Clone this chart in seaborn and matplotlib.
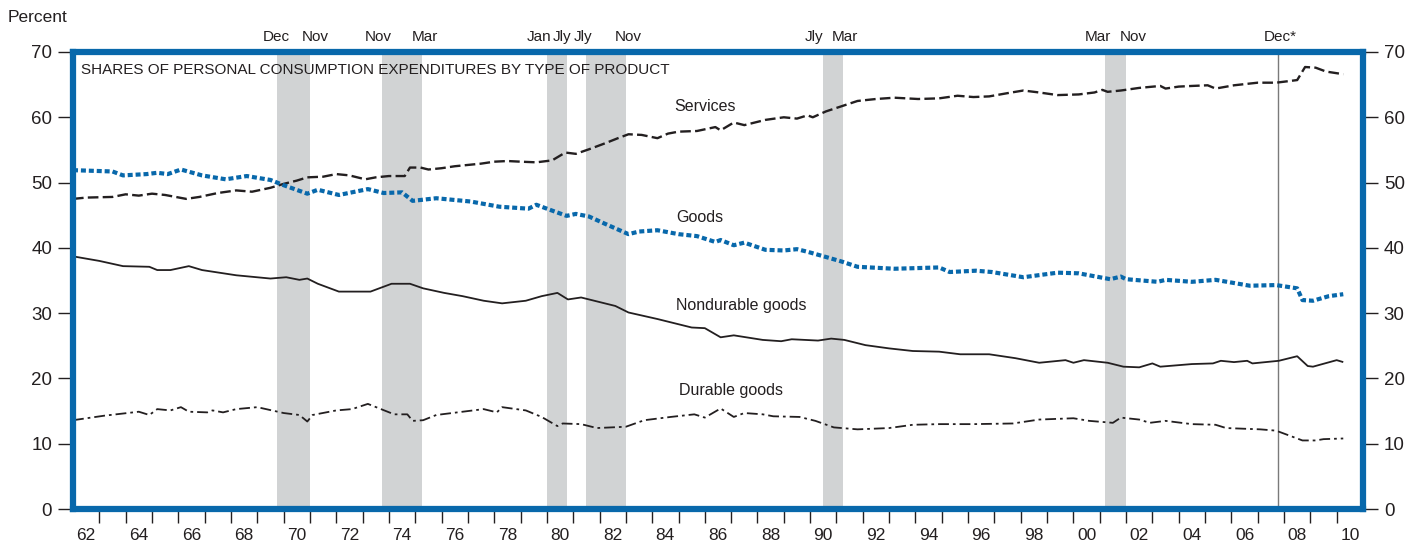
import numpy as np
import pandas as pd
import matplotlib
matplotlib.use('Agg')
import matplotlib.pyplot as plt
import seaborn as sns

# shares of PCE (percent)
services_years = [1962.0, 1962.5, 1963.5, 1964.0, 1964.5, 1965.0, 1965.5, 1966.3, 1966.8, 1967.5,
                  1968.2, 1968.8, 1969.5, 1970.0, 1970.5, 1970.9, 1971.5, 1972.0, 1972.5, 1973.1,
                  1973.5, 1974.0, 1974.6, 1974.8, 1975.2, 1975.5, 1976.0, 1976.5, 1977.0, 1977.5,
                  1978.0, 1978.5, 1979.0, 1979.6, 1980.2, 1980.7, 1981.1, 1981.6, 1982.2, 1982.7,
                  1983.1, 1983.6, 1984.2, 1984.6, 1985.0, 1985.7, 1986.4, 1986.6, 1987.1, 1987.5,
                  1988.3, 1989.0, 1989.5, 1989.9, 1990.1, 1990.6, 1991.2, 1991.8, 1992.5, 1993.2,
                  1994.1, 1994.9, 1995.6, 1996.2, 1996.8, 1997.5, 1998.1, 1998.7, 1999.4, 2000.2,
                  2000.8, 2001.1, 2001.3, 2001.8, 2002.5, 2003.3, 2003.5, 2004.0, 2004.5, 2005.1,
                  2005.4, 2006.1, 2007.0, 2007.7, 2008.5, 2008.8, 2009.2, 2009.6, 2010.25]
services = [47.5, 47.7, 47.8, 48.2, 48.0, 48.3, 48.1, 47.5, 47.8, 48.4,
            48.8, 48.6, 49.2, 49.8, 50.3, 50.8, 50.9, 51.3, 51.1, 50.5,
            50.8, 51.0, 51.0, 52.3, 52.3, 52.0, 52.2, 52.5, 52.7, 52.9,
            53.2, 53.3, 53.2, 53.1, 53.4, 54.6, 54.4, 55.1, 56.0, 56.8,
            57.4, 57.3, 56.8, 57.5, 57.8, 57.9, 58.5, 58.0, 59.2, 58.8,
            59.6, 60.0, 59.8, 60.3, 60.0, 60.9, 61.7, 62.5, 62.8, 63.0,
            62.8, 62.9, 63.3, 63.1, 63.2, 63.7, 64.1, 63.8, 63.4, 63.5,
            63.8, 64.2, 63.9, 64.1, 64.5, 64.8, 64.4, 64.7, 64.8, 64.9,
            64.4, 64.9, 65.3, 65.3, 65.7, 67.7, 67.6, 67.0, 66.6]

goods_years = [1962.0, 1963.5, 1963.9, 1964.8, 1965.2, 1965.6, 1966.1, 1966.9, 1967.8, 1968.6,
               1969.5, 1970.0, 1970.9, 1971.3, 1972.1, 1973.2, 1973.8, 1974.5, 1974.9, 1975.8,
               1977.1, 1978.2, 1979.3, 1979.6, 1980.0, 1980.75, 1981.1, 1981.6, 1982.2, 1983.1,
               1983.5, 1984.2, 1985.0, 1985.7, 1986.4, 1986.6, 1987.1, 1987.5, 1988.3, 1989.0,
               1989.5, 1989.9, 1990.6, 1991.2, 1991.8, 1993.2, 1994.9, 1995.3, 1996.3, 1996.9,
               1998.1, 1999.4, 2000.2, 2001.4, 2001.8, 2002.0, 2003.2, 2003.5, 2004.5, 2005.4,
               2006.7, 2007.7, 2008.5, 2008.7, 2009.1, 2009.7, 2010.25]
goods = [51.9, 51.7, 51.1, 51.3, 51.5, 51.3, 52.0, 51.1, 50.5, 51.0,
         50.4, 49.6, 48.3, 48.9, 48.1, 49.0, 48.4, 48.5, 47.2, 47.6,
         47.1, 46.3, 46.0, 46.6, 46.0, 44.9, 45.2, 44.8, 43.7, 42.1,
         42.5, 42.7, 42.1, 41.8, 40.9, 41.2, 40.4, 40.8, 39.7, 39.6,
         39.8, 39.4, 38.6, 37.9, 37.1, 36.8, 37.0, 36.3, 36.5, 36.3,
         35.5, 36.2, 36.1, 35.2, 35.6, 35.2, 34.8, 35.1, 34.8, 35.1,
         34.2, 34.3, 33.8, 32.0, 31.9, 32.6, 32.9]

nondurable_years = [1962.0, 1963.0, 1963.9, 1964.9, 1965.2, 1965.7, 1966.4, 1966.9, 1968.2, 1969.5,
                    1970.1, 1970.6, 1970.9, 1971.3, 1972.1, 1973.3, 1974.1, 1974.8, 1975.3, 1976.1,
                    1976.8, 1977.6, 1978.3, 1979.2, 1979.8, 1980.4, 1980.8, 1981.3, 1981.8, 1982.6,
                    1983.1, 1984.2, 1985.5, 1986.0, 1986.6, 1987.1, 1988.2, 1988.9, 1989.3, 1990.3,
                    1990.8, 1991.3, 1992.1, 1993.0, 1993.9, 1994.9, 1995.7, 1996.8, 1997.8, 1998.7,
                    1999.7, 2000.0, 2000.4, 2001.3, 2001.9, 2002.5, 2003.0, 2003.3, 2004.5, 2005.3,
                    2005.6, 2006.1, 2006.6, 2006.8, 2007.8, 2008.5, 2008.9, 2009.1, 2010.0, 2010.25]
nondurable = [38.7, 38.0, 37.2, 37.1, 36.6, 36.6, 37.2, 36.6, 35.8, 35.3,
              35.5, 35.1, 35.3, 34.5, 33.3, 33.3, 34.5, 34.5, 33.8, 33.1,
              32.6, 31.9, 31.5, 31.9, 32.6, 33.1, 32.1, 32.4, 31.9, 31.1,
              30.1, 29.1, 27.8, 27.7, 26.3, 26.6, 25.9, 25.7, 26.0, 25.8,
              26.1, 25.9, 25.1, 24.6, 24.2, 24.1, 23.7, 23.7, 23.1, 22.4,
              22.8, 22.4, 22.8, 22.4, 21.8, 21.7, 22.3, 21.8, 22.2, 22.3,
              22.7, 22.5, 22.7, 22.3, 22.7, 23.4, 21.9, 21.8, 22.8, 22.5]

durable_years = [1962.0, 1963.2, 1964.5, 1964.9, 1965.2, 1965.7, 1966.1, 1966.4, 1967.1, 1967.3,
                 1967.7, 1968.2, 1969.0, 1970.0, 1970.6, 1970.9, 1971.1, 1972.0, 1972.6, 1973.2,
                 1973.7, 1974.2, 1974.7, 1974.9, 1975.3, 1975.8, 1976.8, 1977.6, 1978.1, 1978.3,
                 1979.2, 1979.8, 1980.4, 1980.6, 1981.3, 1981.9, 1983.0, 1983.7, 1984.7, 1985.6,
                 1986.0, 1986.6, 1987.1, 1987.5, 1988.2, 1988.6, 1989.6, 1990.2, 1990.9, 1991.8,
                 1993.0, 1993.9, 1994.9, 1996.2, 1997.7, 1998.7, 2000.0, 2000.6, 2001.5, 2001.8,
                 2002.5, 2002.9, 2003.5, 2004.5, 2005.4, 2005.8, 2007.1, 2007.7, 2008.7, 2009.2,
                 2009.5, 2010.25]
durable = [13.6, 14.3, 14.9, 14.4, 15.3, 15.1, 15.6, 14.9, 14.8, 15.1,
           14.8, 15.3, 15.6, 14.7, 14.4, 13.4, 14.4, 15.1, 15.3, 16.1,
           15.3, 14.5, 14.5, 13.5, 13.6, 14.4, 14.9, 15.3, 14.8, 15.6,
           15.1, 14.1, 12.7, 13.1, 13.0, 12.4, 12.6, 13.6, 14.1, 14.5,
           14.0, 15.4, 14.1, 14.7, 14.5, 14.2, 14.1, 13.5, 12.5, 12.2,
           12.4, 12.9, 13.0, 13.0, 13.1, 13.7, 13.9, 13.5, 13.2, 14.0,
           13.7, 13.2, 13.5, 13.0, 12.9, 12.4, 12.2, 12.0, 10.5, 10.5,
           10.7, 10.8]

# recessions (shaded), with the month labels printed above the frame
rec_start = [1969.75, 1973.75, 1980.0, 1981.5, 1990.5, 2001.2]
rec_end = [1971.0, 1975.25, 1980.75, 1983.0, 1991.25, 2002.0]
rec_months = ['Dec', 'Nov', 'Nov', 'Mar', 'Jan', 'Jly', 'Jly', 'Nov', 'Jly', 'Mar', 'Mar', 'Nov', 'Dec*']
dec07 = 2007.78

year_labels = ['62', '64', '66', '68', '70', '72', '74', '76', '78', '80', '82', '84', '86',
               '88', '90', '92', '94', '96', '98', '00', '02', '04', '06', '08', '10']

frames = []
for name, yrs, vals in [('Services', services_years, services), ('Goods', goods_years, goods),
                        ('Nondurable goods', nondurable_years, nondurable),
                        ('Durable goods', durable_years, durable)]:
    frames.append(pd.DataFrame({'year': yrs, 'share': vals, 'series': name}))
df = pd.concat(frames, ignore_index=True)

sns.set_style('white')
plt.rcParams['font.family'] = ['Liberation Sans', 'DejaVu Sans']

BLUE = '#0868ab'
INK = '#231f20'

fig = plt.figure(figsize=(14.23, 5.46), dpi=100)
ax = fig.add_axes([73 / 1423, 37 / 546, 1290 / 1423, 457 / 546])

for s, e in zip(rec_start, rec_end):
    ax.axvspan(s, e, color='#d1d3d4', lw=0, zorder=0)
ax.axvline(dec07, color='#7a7a7a', lw=1.0, zorder=1)

styles = {
    'Services': dict(color=INK, lw=1.7, dashes=(4.5, 1.8)),
    'Goods': dict(color=BLUE, lw=3.0, dashes=(1.2, 0.7)),
    'Nondurable goods': dict(color=INK, lw=1.3, dashes=(None, None)),
    'Durable goods': dict(color=INK, lw=1.3, dashes=(6, 2.2, 1.5, 2.2)),
}
for name, st in styles.items():
    sub = df[df['series'] == name]
    sns.lineplot(data=sub, x='year', y='share', ax=ax, color=st['color'], lw=st['lw'],
                 estimator=None, sort=False, legend=False)
    ln = ax.lines[-1]
    if st['dashes'][0] is not None:
        ln.set_dashes(st['dashes'])
    ln.set_solid_capstyle('butt')
    ln.set_dash_capstyle('butt')

ax.set_xlim(1962, 2011)
ax.set_ylim(0, 70)
ax.set_xlabel('')
ax.set_ylabel('')

for sp in ax.spines.values():
    sp.set_visible(True)
    sp.set_color(BLUE)
    sp.set_linewidth(4.5)
    sp.set_zorder(5)

ax.set_yticks(np.arange(0, 71, 10))
ax.tick_params(axis='y', which='major', left=True, right=True, labelleft=True, labelright=True,
               length=11, width=1.0, color=INK, pad=4, labelsize=13.5, labelcolor=INK)
ax.set_xticks(np.arange(1963, 2011))
ax.set_xticklabels([])
ax.set_xticks(np.arange(1962.5, 2011, 2), minor=True)
ax.set_xticklabels(year_labels, minor=True)
ax.tick_params(axis='x', which='major', bottom=True, length=10, width=1.0, color=INK)
ax.tick_params(axis='x', which='minor', bottom=True, length=0, pad=14, labelsize=12.5,
               labelcolor=INK)

ax.text(1962.3, 67.3, 'SHARES OF PERSONAL CONSUMPTION EXPENDITURES BY TYPE OF PRODUCT',
        fontsize=11, color=INK, va='center', ha='left')
ax.text(1986.0, 61.6, 'Services', fontsize=11.5, color=INK, ha='center', va='center')
ax.text(1985.8, 44.6, 'Goods', fontsize=11.5, color=INK, ha='center', va='center')
ax.text(1987.4, 31.2, 'Nondurable goods', fontsize=11.5, color=INK, ha='center', va='center')
ax.text(1987.0, 18.1, 'Durable goods', fontsize=11.5, color=INK, ha='center', va='center')

# month labels sit just outside the shading edges
edges = [rec_start[0] - 0.04, rec_end[0] + 0.19, rec_start[1] - 0.17, rec_end[1] + 0.12,
         rec_start[2] - 0.28, rec_end[2] - 0.17, rec_start[3] - 0.14, rec_end[3] + 0.1,
         rec_start[4] - 0.36, rec_end[4] + 0.07, rec_start[5] - 0.27, rec_end[5] + 0.26,
         dec07 + 0.06]
trans = ax.get_xaxis_transform()
for xpos, lbl in zip(edges, rec_months):
    ax.text(xpos, 1.032, lbl, transform=trans, ha='center', va='center', fontsize=11, color=INK)

fig.text(8 / 1423, 1 - 18 / 546, 'Percent', fontsize=12.5, color=INK, ha='left', va='center')

fig.savefig('out.png', dpi=100)
